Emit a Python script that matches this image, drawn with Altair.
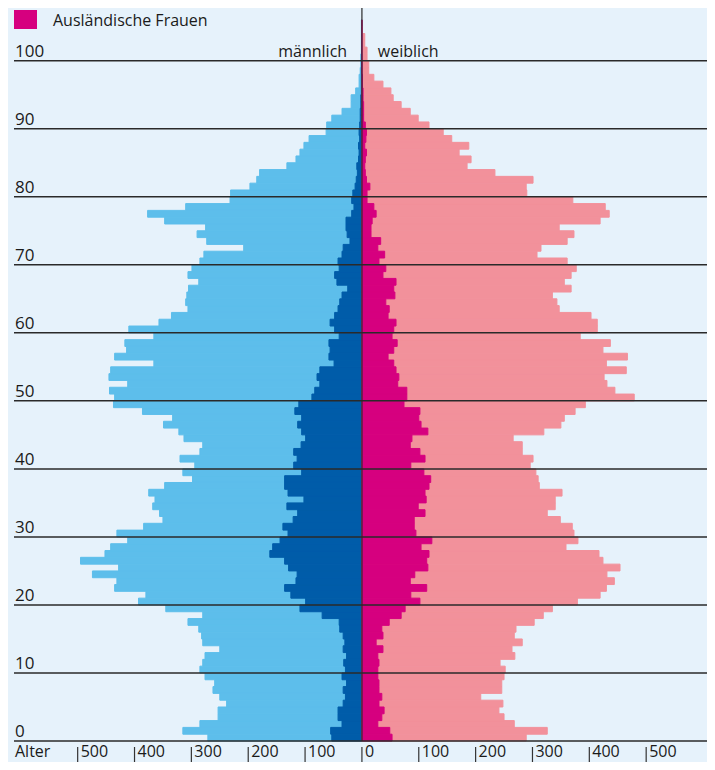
import altair as alt
import pandas as pd

ages = list(range(0, 106))

male_total = [271, 315, 285, 253, 253, 238, 250, 262, 259, 276,
              285, 280, 276, 250, 280, 282, 287, 306, 280, 345,
              393, 380, 435, 431, 474, 428, 495, 452, 442, 412,
              431, 384, 350, 356, 368, 364, 375, 347, 298, 315,
              294, 320, 285, 280, 313, 322, 349, 333, 386, 437,
              435, 444, 412, 445, 442, 366, 435, 414, 417, 366,
              410, 357, 335, 306, 310, 308, 305, 287, 306, 299,
              285, 278, 208, 273, 290, 275, 347, 377, 310, 232,
              231, 197, 185, 180, 132, 116, 109, 102, 93, 63,
              62, 53, 35, 19, 19, 11, 5, 5, 3, 2,
              2, 1, 1, 1, 1, 1]

male_foreign = [53, 55, 35, 42, 42, 33, 29, 33, 27, 35,
                29, 32, 27, 33, 30, 33, 39, 40, 70, 109,
                99, 125, 136, 116, 114, 129, 136, 162, 157, 144,
                130, 139, 121, 113, 132, 102, 130, 136, 136, 106,
                120, 114, 120, 107, 99, 106, 113, 106, 118, 111,
                88, 83, 74, 79, 74, 49, 58, 56, 58, 40,
                48, 56, 48, 42, 39, 35, 25, 44, 48, 40,
                42, 35, 33, 21, 26, 28, 28, 18, 14, 18,
                16, 12, 10, 8, 9, 6, 5, 6, 4, 5,
                4, 3, 3, 2, 2, 1, 1, 1, 1, 0,
                0, 0, 0, 0, 0, 0]

female_total = [289, 326, 268, 250, 241, 248, 209, 246, 246, 250,
                252, 243, 269, 264, 282, 268, 271, 303, 319, 335,
                379, 419, 430, 444, 431, 454, 424, 417, 359, 380,
                373, 370, 349, 326, 340, 340, 352, 312, 310, 306,
                296, 301, 282, 282, 266, 320, 350, 356, 375, 393,
                479, 445, 431, 426, 465, 430, 467, 424, 437, 384,
                414, 414, 403, 347, 343, 335, 368, 356, 368, 377,
                361, 308, 315, 361, 373, 347, 419, 435, 428, 371,
                290, 289, 301, 234, 185, 192, 171, 188, 158, 143,
                118, 99, 85, 69, 55, 51, 37, 21, 12, 12,
                9, 9, 5, 5, 1, 0]

female_foreign = [53, 49, 28, 35, 39, 30, 35, 30, 30, 28,
                  28, 30, 28, 37, 25, 37, 35, 48, 69, 76,
                  102, 86, 114, 85, 93, 116, 114, 118, 104, 123,
                  95, 92, 92, 111, 99, 113, 111, 118, 121, 109,
                  86, 111, 102, 85, 88, 116, 104, 100, 102, 74,
                  79, 79, 63, 65, 60, 56, 46, 56, 62, 53,
                  56, 60, 46, 48, 42, 58, 56, 60, 37, 42,
                  30, 40, 28, 33, 16, 16, 18, 25, 21, 9,
                  9, 14, 8, 6, 5, 6, 8, 5, 7, 8,
                  6, 3, 3, 3, 2, 2, 1, 1, 0, 0,
                  0, 0, 0, 0, 0, 0]

age_lines = [0, 10, 20, 30, 40, 50, 60, 70, 80, 90, 100]
x_ticks = [-500, -400, -300, -200, -100, 0, 100, 200, 300, 400, 500]
x_tick_labels = ["500", "400", "300", "200", "100", "0", "100", "200", "300", "400", "500"]
legend_label = "Ausländische Frauen"

C_BG = "#E6F2FB"
C_MALE = "#5DBEEB"
C_MALE_F = "#005CA9"
C_FEMALE = "#F2919B"
C_FEMALE_F = "#D6007F"
C_LINE = "#2A2A2A"
FONT = "Open Sans"

W, H = 693, 733
PB = 21
xscale = alt.Scale(domain=[-612, 607], nice=False, zero=False)
yscale = alt.Scale(domain=[0, 107.75], nice=False, zero=False)

df = pd.DataFrame({
    "age": ages,
    "mt": male_total,
    "mf": male_foreign,
    "ft": female_total,
    "ff": female_foreign,
})
base = alt.Chart(df).transform_calculate(top="datum.age + 1")


def bars(field, color, sign):
    return base.transform_calculate(v=f"{sign} * datum.{field}").mark_bar(
        color=color, stroke=color, strokeWidth=1, cornerRadius=0
    ).encode(
        x=alt.X("v:Q", scale=xscale, axis=None),
        x2=alt.datum(0),
        y=alt.Y("age:Q", scale=yscale, axis=None),
        y2="top:Q",
    )


layers = [
    bars("mt", C_MALE, -1),
    bars("mf", C_MALE_F, -1),
    bars("ft", C_FEMALE, 1),
    bars("ff", C_FEMALE_F, 1),
]

lines_df = pd.DataFrame({"age": age_lines, "label": [str(a) for a in age_lines]})
grid = alt.Chart(lines_df).mark_rule(color=C_LINE, strokeWidth=1.5).encode(
    y=alt.Y("age:Q", scale=yscale, axis=None),
    x=alt.value(0),
    x2=alt.value(W),
)
age_text = alt.Chart(lines_df).mark_text(
    align="left", baseline="alphabetic", dy=-4, font=FONT, fontSize=17, color="#1a1a1a"
).encode(
    y=alt.Y("age:Q", scale=yscale, axis=None),
    x=alt.value(1),
    text="label:N",
)

center_df = pd.DataFrame({"x": [0], "age": [0]})
center = alt.Chart(center_df).mark_rule(color=C_LINE, strokeWidth=1.2).encode(
    x=alt.X("x:Q", scale=xscale, axis=None),
    y=alt.Y("age:Q", scale=yscale, axis=None),
    y2=alt.value(-3),
)

sex_df = pd.DataFrame({"x": [-26, 28], "age": [100, 100], "label": ["männlich", "weiblich"],
                       "al": ["right", "left"]})
male_lbl = alt.Chart(sex_df[sex_df.al == "right"]).mark_text(
    align="right", baseline="alphabetic", dy=-4, font=FONT, fontSize=16, color="#1a1a1a"
).encode(x=alt.X("x:Q", scale=xscale, axis=None), y=alt.Y("age:Q", scale=yscale, axis=None), text="label:N")
female_lbl = alt.Chart(sex_df[sex_df.al == "left"]).mark_text(
    align="left", baseline="alphabetic", dy=-4, font=FONT, fontSize=16, color="#1a1a1a"
).encode(x=alt.X("x:Q", scale=xscale, axis=None), y=alt.Y("age:Q", scale=yscale, axis=None), text="label:N")

tick_df = pd.DataFrame({"x": x_ticks, "label": x_tick_labels})
tick_rules = alt.Chart(tick_df).mark_rule(color="#333333", strokeWidth=1.2).encode(
    x=alt.X("x:Q", scale=xscale, axis=None),
    y=alt.value(H + 6),
    y2=alt.value(H + PB),
)
tick_text = alt.Chart(tick_df).mark_text(
    align="left", baseline="alphabetic", dx=3, font=FONT, fontSize=16, color="#1a1a1a"
).encode(
    x=alt.X("x:Q", scale=xscale, axis=None),
    y=alt.value(H + 16),
    text="label:N",
)
alter = alt.Chart(pd.DataFrame({"t": ["Alter"]})).mark_text(
    align="left", baseline="alphabetic", font=FONT, fontSize=16, color="#1a1a1a"
).encode(x=alt.value(1), y=alt.value(H + 16), text="t:N")

leg_df = pd.DataFrame({"t": [legend_label]})
leg_sq = alt.Chart(leg_df).mark_rect(color=C_FEMALE_F).encode(
    x=alt.value(0), x2=alt.value(23), y=alt.value(2), y2=alt.value(21)
)
leg_txt = alt.Chart(leg_df).mark_text(
    align="left", baseline="alphabetic", font=FONT, fontSize=16, color="#1a1a1a"
).encode(x=alt.value(39), y=alt.value(18), text="t:N")

chart = alt.layer(
    *layers, grid, center, age_text, male_lbl, female_lbl, tick_rules, tick_text, alter, leg_sq, leg_txt
).properties(
    width=W, height=H,
    autosize=alt.AutoSizeParams(type="none"),
    padding={"left": 6, "top": 0, "right": 0, "bottom": PB},
    background=C_BG,
).configure_view(stroke=None)

chart.save("out.html", embed_options={"renderer": "svg", "actions": False})
